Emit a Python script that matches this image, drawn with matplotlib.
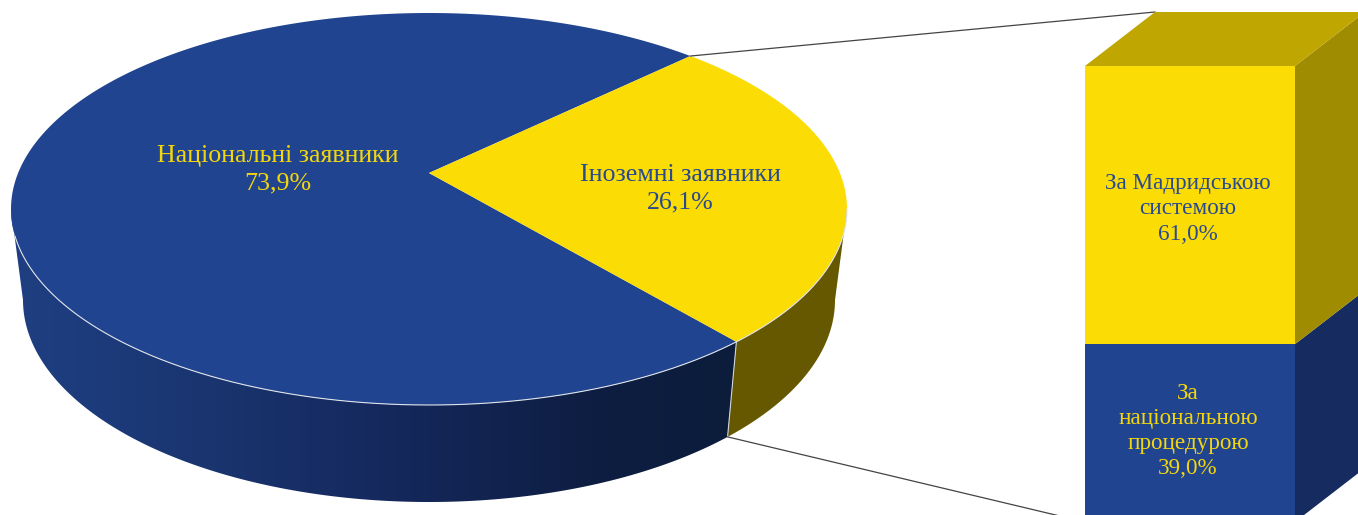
"""Pie-of-bar chart with a fake 3D look, drawn in pixel space."""
import matplotlib

matplotlib.use("Agg")
import matplotlib.pyplot as plt  # noqa: E402
import numpy as np  # noqa: E402
from matplotlib.colors import LinearSegmentedColormap  # noqa: E402
from matplotlib.patches import Polygon  # noqa: E402

pie_labels = ["Національні заявники", "Іноземні заявники"]
pie_values = [73.9, 26.1]
bar_labels = ["За\nнаціональною\nпроцедурою", "За Мадридською\nсистемою"]
bar_values = [39.0, 61.0]

BLUE = "#20448f"
YELLOW = "#fbdc05"
TXT_YELLOW = "#f4d60c"
TXT_BLUE = "#2a4a90"

W, H = 1358, 515
# top and bottom ellipses of the disc, the bottom one is smaller (perspective)
CX = 429
TOP_CY, TOP_RX, TOP_RY = 209, 418, 196
BOT_CY, BOT_RX, BOT_RY = 300, 406, 202
APEX = (429, 173)
START = 51.3  # angle where the yellow slice begins, going clockwise

BAR_L, BAR_W, BAR_TOP = 1085, 210, 66
BAR_SCALE = 4.56  # px per percent
DX, DY = 70, -54


def top_pt(a):
    a = np.radians(a)
    return np.column_stack([CX + TOP_RX * np.cos(a), TOP_CY - TOP_RY * np.sin(a)])


def bot_pt(a):
    a = np.radians(a)
    return np.column_stack([CX + BOT_RX * np.cos(a), BOT_CY - BOT_RY * np.sin(a)])


def pct(v):
    return f"{v:.1f}%".replace(".", ",")


fig = plt.figure(figsize=(W / 100, H / 100), dpi=100)
ax = fig.add_axes([0, 0, 1, 1])
plt.rcParams["font.family"] = ["Liberation Serif", "DejaVu Serif"]

yellow_sweep = pie_values[1] / sum(pie_values) * 360
end = START - yellow_sweep  # front edge between the slices

# side walls
a_blue = np.linspace(-180, end, 200)
wall_blue = np.vstack([top_pt(a_blue), bot_pt(a_blue)[::-1]])
a_yel = np.linspace(end, 0, 80)
wall_yel = np.vstack([top_pt(a_yel), bot_pt(a_yel)[::-1]])

clip = Polygon(wall_blue, closed=True, fc="none", ec="none")
ax.add_patch(clip)
cmap = LinearSegmentedColormap.from_list(
    "wall", [(0, "#1f3f82"), (0.2, "#1b3875"), (0.55, "#14275a"), (0.8, "#0e1e42"), (1, "#0c1c3b")]
)
grad = ax.imshow(np.linspace(0, 1, 256)[None, :], cmap=cmap, aspect="auto",
                 extent=(11, 737, 515, 200), zorder=1)
grad.set_clip_path(clip)
ax.add_patch(Polygon(wall_yel, closed=True, fc="#655800", ec="none", zorder=1))
edge = np.vstack([top_pt(np.array([end])), bot_pt(np.array([end]))])
ax.plot(edge[:, 0], edge[:, 1], color="#d0d4dc", lw=0.8, zorder=2)

# top face
a_y = np.linspace(START, end, 160)
a_b = np.linspace(START, end + 360, 400)
ax.add_patch(Polygon(np.vstack([[APEX], top_pt(a_b)]), closed=True, fc=BLUE, ec="none", zorder=3))
ax.add_patch(Polygon(np.vstack([[APEX], top_pt(a_y)]), closed=True, fc=YELLOW, ec="none", zorder=3))
a_rim = np.linspace(-172, 0, 300)
rim = top_pt(a_rim)
ax.plot(rim[:, 0], rim[:, 1], color="#dfe3ea", lw=0.8, zorder=3)

# stacked bar, bottom segment first
bar_total = sum(bar_values) * BAR_SCALE
bar_bottom = BAR_TOP + bar_total
bar_r = BAR_L + BAR_W
fronts = [BLUE, YELLOW]
sides = ["#162c60", "#a08c00"]
y = bar_bottom
for val, fc, sc in zip(bar_values, fronts, sides):
    h = val * BAR_SCALE
    ax.bar(BAR_L + BAR_W / 2, -h, width=BAR_W, bottom=y, color=fc, zorder=4)
    ax.add_patch(Polygon([(bar_r, y), (bar_r + DX, y + DY), (bar_r + DX, y - h + DY), (bar_r, y - h)],
                         closed=True, fc=sc, ec="none", zorder=4))
    y -= h
ax.add_patch(Polygon([(BAR_L, BAR_TOP), (BAR_L + DX, BAR_TOP + DY), (bar_r + DX, BAR_TOP + DY), (bar_r, BAR_TOP)],
                     closed=True, fc="#bfa600", ec="none", zorder=4))

# connector lines
p0 = top_pt(np.array([START]))[0]
ax.plot([p0[0], BAR_L + DX], [p0[1], BAR_TOP + DY], color="#444444", lw=0.9, zorder=3)
p1 = bot_pt(np.array([end]))[0]
ax.plot([p1[0], BAR_L], [p1[1], bar_bottom], color="#444444", lw=0.9, zorder=3)

# labels
pie_txt = dict(ha="center", va="center", fontsize=18.7, linespacing=1.3, zorder=5)
bar_txt = dict(ha="center", va="center", fontsize=16.7, linespacing=1.27, zorder=5)
ax.text(278, 170, f"{pie_labels[0]}\n{pct(pie_values[0])}", color=TXT_YELLOW, **pie_txt)
ax.text(680, 189, f"{pie_labels[1]}\n{pct(pie_values[1])}", color=TXT_BLUE, **pie_txt)
ax.text(1188, 431, f"{bar_labels[0]}\n{pct(bar_values[0])}", color=TXT_YELLOW, **bar_txt)
ax.text(1188, 209, f"{bar_labels[1]}\n{pct(bar_values[1])}", color=TXT_BLUE, **bar_txt)

ax.set_xlim(0, W)
ax.set_ylim(H, 0)
ax.axis("off")
fig.savefig("out.png", dpi=100, facecolor="white")
